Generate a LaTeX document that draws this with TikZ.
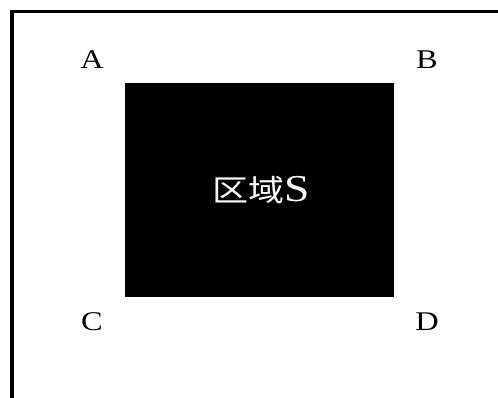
\documentclass[tikz,border=0pt]{standalone}
\usepackage{fontspec}
\setmainfont{Liberation Serif}
\newfontfamily\cjk{Noto Sans CJK SC}
\begin{document}
\begin{tikzpicture}[x=1pt,y=-1pt,
  corner/.style={inner sep=0pt, font=\fontsize{27}{27}\selectfont, text=black},
  region/.style={draw=none, fill=black, minimum width=269pt, minimum height=214pt, inner sep=0pt, anchor=north west},
  frame/.style={line width=3.3pt, black}]
\useasboundingbox (0,0) rectangle (498,398);
\draw[frame] (12,398) -- (12,11.7) -- (498,11.7);
\node[region] (S) at (125,83) {};
\node[text=white, inner sep=0pt] (lab) at (261.5,190)
  {\scalebox{1.2}[1]{{\cjk\fontsize{30}{30}\selectfont 区域}{\fontsize{38}{38}\selectfont S}}};
\node[corner] (A) at (92,60) {\scalebox{1.2}[1]{A}};
\node[corner] (B) at (427,60) {\scalebox{1.2}[1]{B}};
\node[corner] (C) at (92,322) {\scalebox{1.2}[1]{C}};
\node[corner] (D) at (427,322) {\scalebox{1.2}[1]{D}};
\end{tikzpicture}
\end{document}
